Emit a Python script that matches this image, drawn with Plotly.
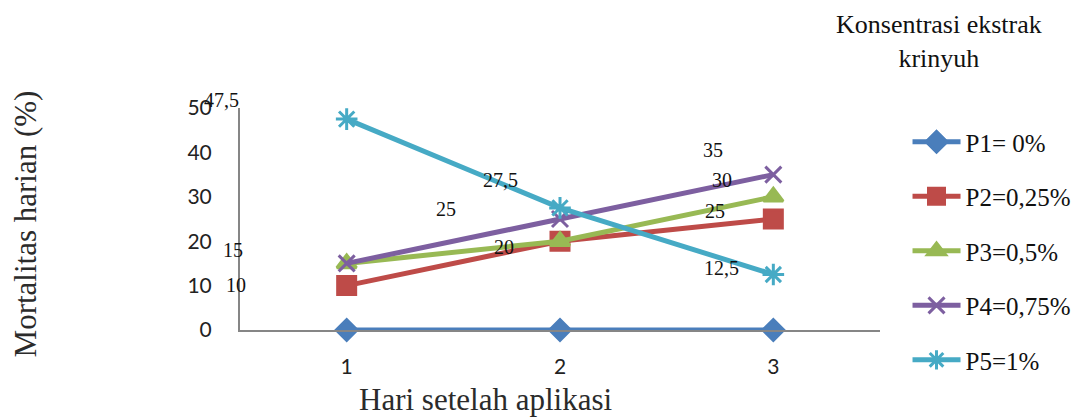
import plotly.graph_objects as go

days = [1, 2, 3]
day_labels = ["1", "2", "3"]
series_names = ["P1= 0%", "P2=0,25%", "P3=0,5%", "P4=0,75%", "P5=1%"]
p1 = [0, 0, 0]
p2 = [10, 20, 25]
p3 = [15, 20, 30]
p4 = [15, 25, 35]
p5 = [47.5, 27.5, 12.5]
y_ticks = [0, 10, 20, 30, 40, 50]

series_values = [p1, p2, p3, p4, p5]
colors = ["#4A7EBB", "#BE4B48", "#98B954", "#7D5FA0", "#46AAC5"]
symbols = ["diamond", "square", "triangle-up", "x-thin-open", "asterisk-open"]
msizes = [16, 18, 17, 16, 18]

SERIF = "Liberation Serif, Times New Roman, DejaVu Serif, serif"

fig = go.Figure()
for name, vals, c, s, ms in zip(series_names, series_values, colors, symbols, msizes):
    fig.add_trace(go.Scatter(
        x=days, y=vals, name=name, mode="lines+markers",
        line=dict(color=c, width=5),
        marker=dict(symbol=s, size=ms, color=c, line=dict(color=c, width=3)),
        cliponaxis=False, legendgroup=name,
    ))

def fmt(v):
    return (("%g" % v).replace(".", ","))

# data labels: (series index, point index, pixel offset)
label_spec = [
    (4, 0, -125, -19), (3, 0, -114, -13), (1, 0, -111, -1),
    (3, 1, -114, -10), (4, 1, -60, -28), (2, 1, -56, 6),
    (3, 2, -60, -25), (2, 2, -51, -17), (1, 2, -58, -8), (4, 2, -52, -7),
]
for si, pi, dx, dy in label_spec:
    fig.add_annotation(x=days[pi], y=series_values[si][pi], xref="x", yref="y",
                       text=fmt(series_values[si][pi]), showarrow=False,
                       xshift=dx, yshift=-dy, xanchor="center", yanchor="middle",
                       font=dict(family=SERIF, size=20, color="#111"))

fig.add_annotation(x=0.383, y=-0.315, xref="paper", yref="paper",
                   xanchor="center", yanchor="middle",
                   text="Hari setelah aplikasi", showarrow=False,
                   font=dict(family=SERIF, size=31, color="#2b2b2b"))
fig.add_annotation(x=-0.336, y=0.48, xref="paper", yref="paper", textangle=-90,
                   xanchor="center", yanchor="middle",
                   text="Mortalitas harian (%)", showarrow=False,
                   font=dict(family=SERIF, size=31, color="#2b2b2b"))
fig.add_annotation(x=1.092, y=1.45, xref="paper", yref="paper",
                   xanchor="center", yanchor="top",
                   text="Konsentrasi ekstrak<br>krinyuh", showarrow=False,
                   font=dict(family=SERIF, size=26, color="#111"))

fig.update_layout(
    width=1076, height=411,
    margin=dict(l=232, r=204, t=100, b=89, autoexpand=False),
    paper_bgcolor="white", plot_bgcolor="white",
    showlegend=True,
    legend=dict(x=1.043, y=0.95, xanchor="left", yanchor="top",
                font=dict(family=SERIF, size=25, color="#111"),
                tracegroupgap=19, itemwidth=48, bgcolor="rgba(0,0,0,0)", maxheight=400),
    xaxis=dict(range=[0.5, 3.5], tickmode="array", tickvals=days, ticktext=day_labels,
               showgrid=False, zeroline=False, showline=True, linecolor="#868686", linewidth=2,
               ticks="outside", ticklen=17, tickcolor="rgba(0,0,0,0)",
               tickfont=dict(family="Lato", size=21, color="#222")),
    yaxis=dict(range=[0, 50], tickmode="array", tickvals=y_ticks,
               showgrid=False, zeroline=False, showline=True, linecolor="#868686", linewidth=2,
               ticks="outside", ticklen=22, tickcolor="rgba(0,0,0,0)",
               tickfont=dict(family="Lato", size=21, color="#222")),
)

fig.write_html("out.html")
